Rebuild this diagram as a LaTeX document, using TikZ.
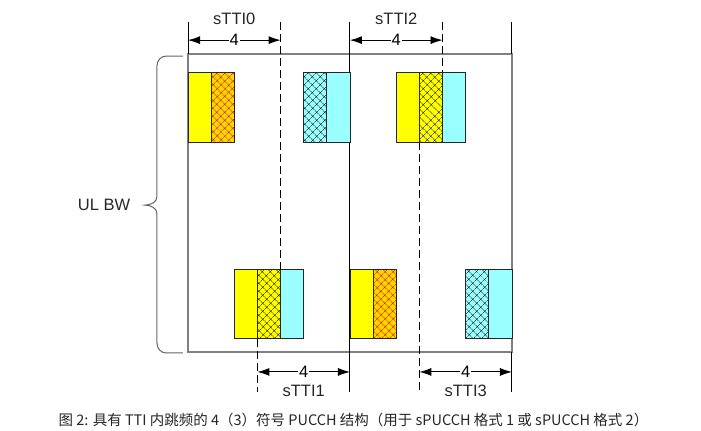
\documentclass[tikz,border=0pt]{standalone}
\usepackage{fontspec}
\setmainfont{Liberation Sans}
\newfontfamily\cjk{Noto Sans CJK SC}
\usetikzlibrary{arrows.meta,patterns.meta}

\definecolor{symyellow}{RGB}{255,255,0}
\definecolor{symorange}{RGB}{255,212,0}
\definecolor{symcyan}{RGB}{153,255,255}

\begin{document}
\begin{tikzpicture}[x=23.14pt, y=-23.14pt]

      \tikzset{
        sym/.style={
          draw=black!85,
          line width=0.8pt,
        },
        sym yellow/.style={sym, fill=symyellow},
        sym cyan/.style={sym, fill=symcyan},
        sym hatch orange/.style={
          sym,
          preaction={fill=symorange},
          pattern={Hatch[angle=45, distance=5.4pt, line width=0.4pt]},
          pattern color=red!80!black,
        },
        sym hatch yellow/.style={
          sym,
          preaction={fill=symyellow},
          pattern={Hatch[angle=45, distance=5.4pt, line width=0.4pt]},
          pattern color=black,
        },
        sym hatch cyan/.style={
          sym,
          preaction={fill=symcyan},
          pattern={Hatch[angle=45, distance=5.4pt, line width=0.4pt]},
          pattern color=black,
        },
        band edge/.style={draw=black!50, line width=1.3pt},
        slot tick/.style={draw=black, line width=1pt},
        hop line/.style={draw=black, line width=0.9pt, dash pattern=on 8pt off 4pt},
        dim/.style={
          {Latex[length=12pt, width=8pt]}-{Latex[length=12pt, width=8pt]},
          line width=0.9pt,
        },
        num/.style={fill=white, inner sep=1pt, font=\fontsize{16.5}{16.5}\selectfont},
        lbl/.style={inner sep=1pt, text=black!85, font=\fontsize{16.5}{16.5}\selectfont},
      }

      \useasboundingbox (-8.125,-2.334) rectangle (22.17,16.25);

      % band and slot borders
      \draw[band edge] (0,0) rectangle (14,12.88);
      \draw[slot tick] (0,-1.38) -- (0,0);
      \draw[slot tick] (7,-1.38) -- (7,14.6);
      \draw[slot tick] (14,-1.38) -- (14,0) (14,12.88) -- (14,14.6);

      % hopping borders
      \draw[hop line] (4,-1.38) -- (4,9.3);
      \draw[hop line] (3,12.3) -- (3,14.6);
      \draw[hop line] (11,-1.38) -- (11,0.8);
      \draw[hop line] (10,3.8) -- (10,14.6);

      \foreach \x/\y/\kind in {0/0.8/sym yellow, 1/0.8/sym hatch orange,
        5/0.8/sym hatch cyan, 6/0.8/sym cyan, 9/0.8/sym yellow,
        10/0.8/sym hatch yellow, 11/0.8/sym cyan, 2/9.3/sym yellow,
        3/9.3/sym hatch yellow, 4/9.3/sym cyan, 7/9.3/sym yellow,
        8/9.3/sym hatch orange, 12/9.3/sym hatch cyan, 13/9.3/sym cyan} {
        \draw[\kind] (\x,\y) rectangle +(1,3);
      }

      \foreach \i/\a/\b/\y/\ly in {0/0/4/-0.6/-1.51, 2/7/11/-0.6/-1.51,
        1/3/7/13.74/14.56, 3/10/14/13.74/14.56} {
        \coordinate (l\i) at (\a,\y);
        \coordinate (r\i) at (\b,\y);
        \draw[dim] (l\i) -- node[num] (n\i) {4} (r\i);
        \node[lbl] (stti\i) at ({(\a+\b)/2},\ly) {sTTI\i};
      }

      % bandwidth brace
      \draw[draw=black!60, line width=1pt]
      (-0.22,0.09) -- (-0.95,0.09) to[out=180, in=90] (-1.34,0.5) --
      (-1.34,6.15) to[out=-90, in=0] (-1.86,6.53) to[out=0, in=90] (-1.34,6.91) --
      (-1.34,12.5) to[out=-90, in=180] (-0.95,12.92) -- (-0.22,12.92);
      \node[lbl, anchor=east] (ulbw) at (-2.45,6.5) {UL BW};

      \node[text=black!85, font=\cjk\fontsize{14.5}{14.5}\selectfont] (caption) at (7.15,15.82)
        {图 2: 具有 TTI 内跳频的 4（3）符号 PUCCH 结构（用于 sPUCCH 格式 1 或 sPUCCH 格式 2）};

    \end{tikzpicture}
\end{document}
